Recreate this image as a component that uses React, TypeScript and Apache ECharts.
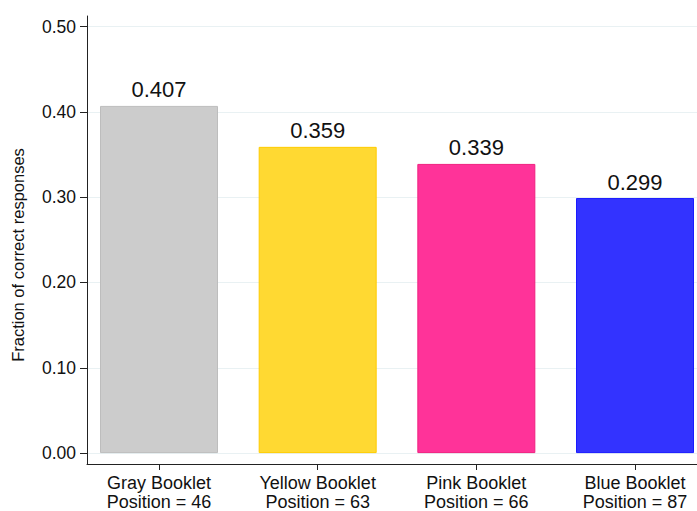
import React, { useEffect, useRef } from "react";
import * as echarts from "echarts";

const categories = ["Gray Booklet", "Yellow Booklet", "Pink Booklet", "Blue Booklet"];
const positions = [46, 63, 66, 87];
const values = [0.407, 0.359, 0.339, 0.299];
const fillColors = ["#cccccc", "#ffd932", "#ff3399", "#3333ff"];
const borderColors = ["#bdbdbd", "#ffcc00", "#f0207f", "#1a1aff"];
const yTicks = [0, 0.1, 0.2, 0.3, 0.4, 0.5];
const xPositions = [1, 2, 3, 4];

export default function App() {
  const ref = useRef<HTMLDivElement>(null);
  useEffect(() => {
    if (!ref.current) return;
    const chart = echarts.init(ref.current, null, { renderer: "svg" });
    const font = "'Liberation Sans', Arial, Helvetica, sans-serif";
    chart.setOption({
      animation: false,
      backgroundColor: "#ffffff",
      textStyle: { fontFamily: font },
      grid: { left: 87, right: 0, top: 16, bottom: 43, containLabel: false },
      xAxis: {
        type: "value",
        min: 0.5462,
        max: 4.3907,
        axisLine: { show: true, onZero: false, lineStyle: { color: "#222", width: 1 } },
        axisTick: { show: true, length: 6, customValues: xPositions, lineStyle: { color: "#222" } },
        axisLabel: {
          customValues: xPositions,
          formatter: (v: number) => {
            const i = Math.round(v) - 1;
            return categories[i] + "\nPosition = " + positions[i];
          },
          color: "#111",
          fontSize: 18,
          lineHeight: 19,
          margin: 9,
          fontFamily: font,
        },
        splitLine: { show: false },
      },
      yAxis: {
        type: "value",
        min: -0.0128,
        max: 0.5124,
        axisLine: { show: true, onZero: false, lineStyle: { color: "#222", width: 1 } },
        axisTick: { show: true, length: 7, customValues: yTicks, lineStyle: { color: "#222" } },
        axisLabel: {
          customValues: yTicks,
          formatter: (v: number) => v.toFixed(2),
          color: "#111",
          fontSize: 17.5,
          margin: 11,
          fontFamily: font,
        },
        splitLine: { show: true, lineStyle: { color: "#e9f1f3", width: 1 } },
      },
      graphic: [
        {
          type: "text",
          x: 18,
          y: 255,
          rotation: Math.PI / 2,
          style: {
            text: "Fraction of correct responses",
            fontSize: 16.5,
            fontFamily: font,
            fill: "#111",
            align: "center",
            verticalAlign: "middle",
          },
        },
      ],
      series: [
        {
          type: "bar",
          barWidth: 118,
          data: values.map((v, i) => ({
            value: [xPositions[i], v],
            itemStyle: { color: fillColors[i], borderColor: borderColors[i], borderWidth: 1 },
          })),
          label: {
            show: true,
            position: "top",
            distance: 5,
            fontSize: 22,
            color: "#111",
            fontFamily: font,
            formatter: (p: any) => p.value[1].toFixed(3),
          },
        },
      ],
    });
    return () => chart.dispose();
  }, []);
  return (
    <div
      ref={ref}
      style={{ position: "fixed", left: 0, top: 0, width: 697, height: 511 }}
    />
  );
}
